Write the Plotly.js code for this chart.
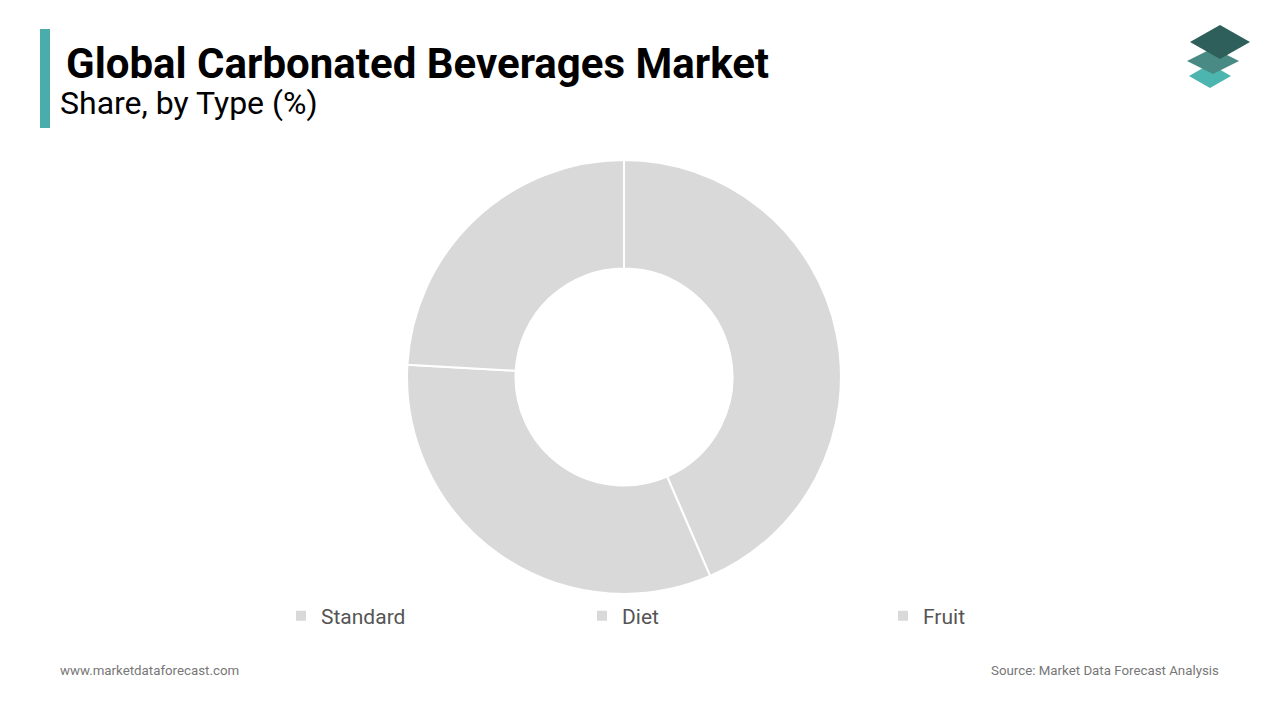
<!DOCTYPE html>
<html>
<head>
<meta charset="utf-8">
<script src="https://cdn.plot.ly/plotly-3.0.1.min.js"></script>
<style>
html,body{margin:0;padding:0;background:#fff;overflow:hidden;}
#chart{width:1280px;height:720px;}
</style>
</head>
<body>
<div id="chart"></div>
<script>
var categories = ["Standard", "Diet", "Fruit"];
var shares = [43.5, 32.4, 24.1];
var sliceColors = ["#d9d9d9", "#d9d9d9", "#d9d9d9"];

function pathDiamond(cx, cy, hw, hh) {
  function px(x) { return (x / 1280).toFixed(5); }
  function py(y) { return (1 - y / 720).toFixed(5); }
  return "M " + px(cx) + "," + py(cy - hh) + " L " + px(cx + hw) + "," + py(cy) + " L " + px(cx) + "," + py(cy + hh) + " L " + px(cx - hw) + "," + py(cy) + " Z";
}

var trace = {
  type: "pie",
  labels: categories,
  values: shares,
  hole: 0.5,
  sort: false,
  direction: "clockwise",
  rotation: 0,
  textinfo: "none",
  hoverinfo: "label+percent",
  marker: {colors: sliceColors, line: {color: "#ffffff", width: 2}},
  domain: {x: [0.318, 0.657], y: [0.175, 0.778]}
};

var layout = {
  width: 1280,
  height: 720,
  margin: {l: 0, r: 0, t: 0, b: 0, autoexpand: false},
  paper_bgcolor: "#ffffff",
  font: {family: "Roboto, sans-serif"},
  showlegend: true,
  legend: {
    orientation: "h",
    x: 281/1280, xanchor: "left",
    y: 1-616/720, yanchor: "middle",
    entrywidth: 256,
    itemwidth: 30,
    font: {family: "Roboto, sans-serif", size: 21, color: "#555555"}
  },
  shapes: [
    {type: "rect", xref: "paper", yref: "paper", x0: 40/1280, x1: 50/1280, y0: 1-128/720, y1: 1-29/720, fillcolor: "#4aacab", line: {width: 0}},
    {type: "path", xref: "paper", yref: "paper", path: pathDiamond(1210, 76, 21, 12), fillcolor: "#4db5b0", line: {width: 0}},
    {type: "path", xref: "paper", yref: "paper", path: pathDiamond(1213, 61, 26, 13), fillcolor: "#4a8a85", line: {width: 0}},
    {type: "path", xref: "paper", yref: "paper", path: pathDiamond(1220, 42, 30, 17), fillcolor: "#2e5f5a", line: {width: 0}}
  ],
  annotations: [
    {text: "<b>Global Carbonated Beverages Market</b>", xref: "paper", yref: "paper", x: 64/1280, y: 1-63/720, xanchor: "left", yanchor: "middle", showarrow: false, font: {family: "Roboto, sans-serif", size: 42, color: "#000000"}},
    {text: "Share, by Type (%)", xref: "paper", yref: "paper", x: 58/1280, y: 1-103/720, xanchor: "left", yanchor: "middle", showarrow: false, font: {family: "Roboto, sans-serif", size: 32, color: "#000000"}},
    {text: "www.marketdataforecast.com", xref: "paper", yref: "paper", x: 58/1280, y: 1-670/720, xanchor: "left", yanchor: "middle", showarrow: false, font: {family: "Roboto, sans-serif", size: 13.3, color: "#777777"}},
    {text: "Source: Market Data Forecast Analysis", xref: "paper", yref: "paper", x: 1221/1280, y: 1-670/720, xanchor: "right", yanchor: "middle", showarrow: false, font: {family: "Roboto, sans-serif", size: 13.3, color: "#777777"}}
  ]
};

Plotly.newPlot("chart", [trace], layout, {displayModeBar: false, staticPlot: true});
</script>
</body>
</html>
